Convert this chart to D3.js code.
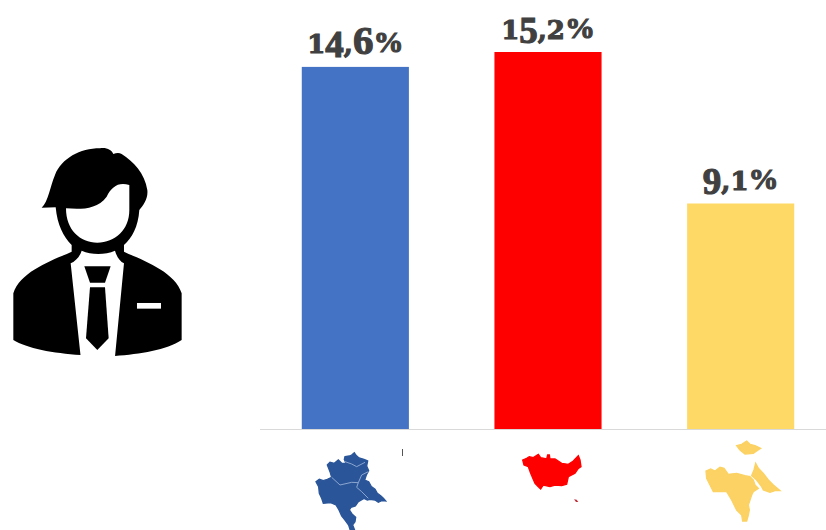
<!DOCTYPE html>
<html>
<head>
<meta charset="utf-8">
<style>
  html, body { margin: 0; padding: 0; background: #fff; overflow: hidden; }
  svg { display: block; }
</style>
<script src="https://cdn.jsdelivr.net/npm/d3@7"></script>
</head>
<body>
<script>
// Chart values
const categories = ["area1", "area2", "area3"];
const values = [14.6, 15.2, 9.1];
const barColors = ["#4472C4", "#FF0000", "#FFD966"];
const mapColors = ["#2A5599", "#FF0000", "#FBD263"];

const width = 826, height = 530;
const baseline = 429.5;

const svg = d3.select("body").append("svg")
  .attr("width", width).attr("height", height);

svg.append("defs").append("filter").attr("id", "soft")
  .append("feGaussianBlur").attr("stdDeviation", 0.45);

const x = d3.scaleBand().domain(categories).range([259, 837]).paddingInner(0.444).paddingOuter(0.222);
const y = d3.scaleLinear().domain([0, 15.2]).range([baseline, 52]);
const color = d3.scaleOrdinal().domain(categories).range(barColors);
const fmt = v => d3.format(".1f")(v).replace(".", ",") + "%";

const rows = categories.map((c, i) => ({ c, v: values[i] }));

svg.selectAll("rect.bar").data(rows).join("rect")
  .attr("class", "bar")
  .attr("x", d => x(d.c))
  .attr("y", d => y(d.v))
  .attr("width", x.bandwidth())
  .attr("height", d => baseline - y(d.v))
  .attr("fill", d => color(d.c));

svg.append("line")
  .attr("x1", 260).attr("x2", 826)
  .attr("y1", baseline).attr("y2", baseline)
  .attr("stroke", "#D9D9D9").attr("stroke-width", 1);

// Old-style numerals: each glyph gets its own face, size and drop from the baseline
const SMALL = { f: "'DejaVu Serif'", s: 26, drop: 0 };
const HANG = { f: "'Liberation Serif'", s: 37, drop: 4 };
const TALL = { f: "'Liberation Serif'", s: 41, drop: 1 };
const glyphStyle = {
  "1": SMALL, "2": SMALL, "4": HANG, "5": HANG, "9": HANG, "6": TALL,
  ",": { f: "'DejaVu Serif'", s: 26, drop: 0 },
  "%": { f: "'Liberation Serif'", s: 30, drop: -1 }
};

svg.selectAll("text.value").data(rows).join("text")
  .attr("class", "value")
  .attr("x", d => x(d.c) + x.bandwidth() / 2)
  .attr("y", d => y(d.v) - 13.5)
  .attr("text-anchor", "middle")
  .attr("font-weight", 700)
  .attr("fill", "#404040")
  .attr("stroke", "#404040")
  .attr("stroke-width", 1.1)
  .each(function (d) {
    let last = 0;
    const t = d3.select(this);
    for (const ch of fmt(d.v)) {
      const g = glyphStyle[ch];
      t.append("tspan")
        .attr("font-family", g.f)
        .attr("font-size", g.s)
        .attr("dy", g.drop - last)
        .text(ch);
      last = g.drop;
    }
  });

// Person pictogram
const person = svg.append("g").attr("transform", "translate(0,130) scale(0.3333)");
person.append("path").attr("fill", "#000").attr("d",
  "M125,233 C145,215 150,170 165,135 C185,85 240,55 300,55 C320,52 335,60 340,72 C350,68 358,68 365,72 " +
  "C400,95 435,130 442,180 C445,205 430,225 418,240 C415,290 395,325 372,345 L372,365 " +
  "C430,392 525,425 545,490 L545,630 C500,660 420,672 345,678 L242,675 C160,670 80,655 40,630 L40,490 " +
  "C60,425 155,392 215,365 L215,345 C190,320 172,285 167,232 Z");
person.append("path").attr("fill", "#fff").attr("d",
  "M212,400 C225,395 240,380 245,362 C275,375 315,375 345,362 C350,380 360,395 372,400 L345,680 L242,680 Z");
person.append("path").attr("fill", "#fff").attr("d",
  "M198,235 C240,238 290,240 320,200 C335,170 355,155 388,165 L388,240 C388,300 345,338 292,338 C240,338 198,300 198,235 Z");
person.append("path").attr("fill", "#000").attr("d", "M253,409 L332,409 L315,458 L270,458 Z");
person.append("path").attr("fill", "#000").attr("d", "M270,472 L315,472 L326,625 L292,660 L258,625 Z");
person.append("rect").attr("fill", "#fff").attr("x", 411).attr("y", 519).attr("width", 72).attr("height", 17);

// Region silhouettes under each bar
const blue = svg.append("g").attr("transform", "translate(290,430) scale(0.3333)").attr("filter", "url(#soft)");
blue.append("path").attr("fill", mapColors[0]).attr("stroke", mapColors[0]).attr("stroke-width", 4).attr("d",
  "M165,80 L178,78 L185,75 L193,68 L198,76 L207,84 L222,88 L233,93 L230,108 L236,122 L229,135 L224,150 L236,155 L244,170 L255,178 " +
  "L262,190 L272,197 L280,205 L287,213 L275,212 L265,217 L255,210 L240,208 L232,210 L222,205 L205,215 L196,228 L183,232 L178,240 " +
  "L186,252 L197,262 L195,275 L188,285 L193,298 L180,298 L176,285 L165,270 L155,258 L147,240 L138,225 L122,218 L100,220 L95,205 " +
  "L88,190 L86,170 L78,155 L88,148 L100,152 L112,148 L125,142 L120,125 L112,105 L120,97 L133,100 L145,90 L155,100 L168,100 L163,88 Z");
blue.append("path").attr("fill", "none").attr("stroke", "#9DB6DA").attr("stroke-width", 2.5).attr("d",
  "M165,95 L185,102 L200,110 L225,97 M125,142 L150,165 L185,157 L205,158 L215,135 L235,125 M205,158 L200,172 L215,185 L235,205");

const red = svg.append("g").attr("transform", "translate(500,435) scale(0.3333)").attr("filter", "url(#soft)");
red.append("path").attr("fill", mapColors[1]).attr("stroke", mapColors[1]).attr("stroke-width", 4).attr("d",
  "M68,75 L80,70 L88,65 L100,68 L115,58 L122,68 L140,72 L143,60 L148,60 L150,72 L165,72 L185,85 L205,88 L220,78 L235,62 L240,75 L243,95 " +
  "L235,100 L225,115 L205,125 L200,148 L185,152 L165,150 L150,155 L130,150 L122,162 L115,155 L105,145 L92,115 L85,95 L72,90 Z");
red.append("path").attr("fill", "#C0303A").attr("d", "M222,193 L230,194 L235,201 L228,201 Z");

const yellow = svg.append("g").attr("transform", "translate(690,435) scale(0.3333)")
  .attr("fill", mapColors[2]).attr("stroke", mapColors[2]).attr("stroke-width", 4).attr("filter", "url(#soft)");
yellow.append("path").attr("d",
  "M140,32 L155,28 L170,18 L180,28 L195,32 L212,40 L200,48 L190,55 L165,57 L150,45 Z");
yellow.append("path").attr("d",
  "M48,108 L62,102 L75,108 L90,97 L102,100 L115,118 L140,115 L165,122 L180,125 L190,135 L195,150 L205,160 L190,170 L185,180 L175,210 " +
  "L178,225 L175,240 L170,258 L158,258 L155,240 L140,225 L125,195 L110,170 L70,170 L60,150 L50,130 Z");
yellow.append("path").attr("d",
  "M197,85 L205,100 L220,115 L235,135 L250,150 L270,167 L255,167 L240,172 L220,165 L215,155 L200,135 L185,122 L192,105 Z");

// Small stray tick beside the first silhouette
svg.append("line").attr("x1", 402.5).attr("x2", 402.5).attr("y1", 449).attr("y2", 456)
  .attr("stroke", "#555").attr("stroke-width", 1);
</script>
</body>
</html>
